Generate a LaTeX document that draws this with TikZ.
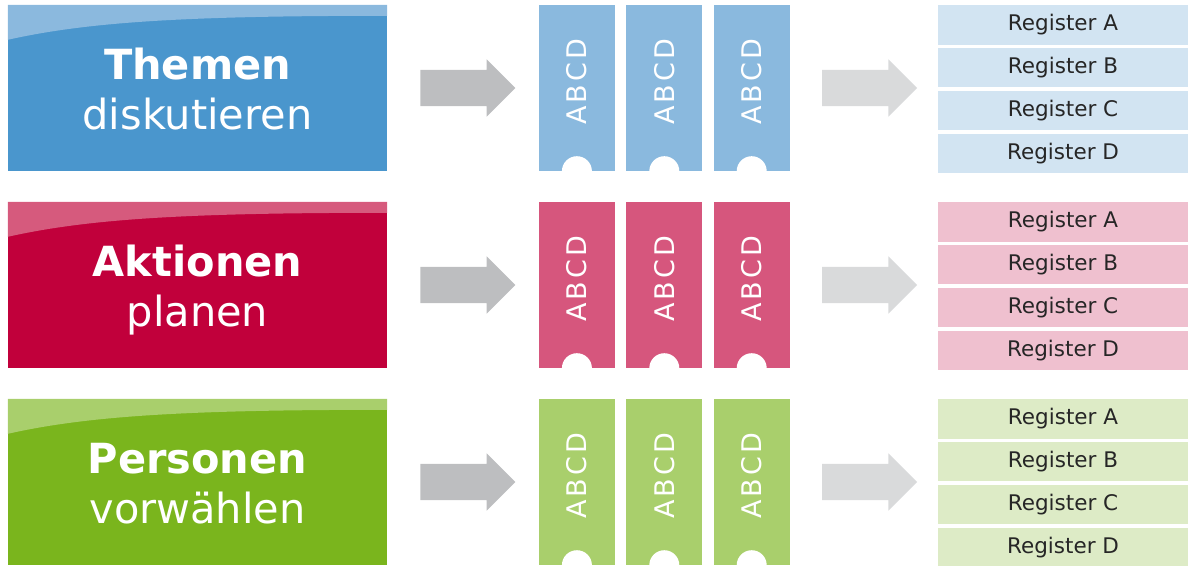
\documentclass[tikz,border=0pt]{standalone}
\usepackage{fontspec}
\setmainfont{DejaVu Sans}
\usetikzlibrary{positioning,shapes.arrows}

\definecolor{blueMain}{HTML}{4A96CD}
\definecolor{blueBand}{HTML}{8BB9DE}
\definecolor{blueTab}{HTML}{8AB9DE}
\definecolor{blueReg}{HTML}{D2E4F2}
\definecolor{redMain}{HTML}{C1003B}
\definecolor{redBand}{HTML}{D65A7D}
\definecolor{redTab}{HTML}{D6567D}
\definecolor{redReg}{HTML}{EFC0CF}
\definecolor{greenMain}{HTML}{7AB51D}
\definecolor{greenBand}{HTML}{A9CF6C}
\definecolor{greenTab}{HTML}{A9CF6C}
\definecolor{greenReg}{HTML}{DDEBC6}
\definecolor{arrowDark}{HTML}{BDBEC0}
\definecolor{arrowLight}{HTML}{D9DADB}
\definecolor{regText}{HTML}{262626}

\newcommand{\tabletters}{A\hspace{3pt}B\hspace{3pt}C\hspace{3pt}D}

\begin{document}
\begin{tikzpicture}[x=1pt, y=-1pt, node distance=11pt,
    main box/.style={rectangle, minimum width=379pt, minimum height=166pt},
    tab box/.style={rectangle, minimum width=76pt, minimum height=166pt},
    reg box/.style={rectangle, minimum width=250pt, minimum height=39.5pt, text=regText, font=\fontsize{21.5}{24}\selectfont},
    big arrow/.style={single arrow, single arrow head extend=10.5pt, minimum height=95pt, text height=18pt, text depth=18pt},
    head text/.style={anchor=base, text=white, font=\fontsize{41.5}{50}\selectfont\bfseries},
    sub text/.style={anchor=base, text=white, font=\fontsize{41.5}{50}\selectfont},
    tab text/.style={rotate=90, text=white, font=\fontsize{27}{30}\selectfont}]
    \tikzstyle{every node}=[inner sep=0pt]

    \useasboundingbox (0,0) rectangle (1188,565);

    % row 1: Themen diskutieren
      \node[main box, fill=blueMain] (m1) at (197.5,88) {};
      \fill[blueBand] (m1.north west) -- (m1.north east) -- ([yshift=-11pt]m1.north east)
        .. controls +(-200,0) and +(80,-18) .. ([yshift=-35pt]m1.north west) -- cycle;
      \node[head text] (h1) at ([yshift=-75pt]m1.north) {Themen};
      \node[sub text] (s1) at ([yshift=-125pt]m1.north) {diskutieren};
      \node[big arrow, fill=arrowDark, right=33pt of m1] (a1) {};
      \node[tab box, fill=blueTab, right=23pt of a1] (t11) {};
      \node[tab box, fill=blueTab, right=of t11] (t12) {};
      \node[tab box, fill=blueTab, right=of t12] (t13) {};
      \node[tab text] at ([yshift=6pt]t11.center) {\tabletters};
      \node[tab text] at ([yshift=6pt]t12.center) {\tabletters};
      \node[tab text] at ([yshift=6pt]t13.center) {\tabletters};
      \fill[white] (t11.south) circle[radius=15pt] (t12.south) circle[radius=15pt] (t13.south) circle[radius=15pt];
      \node[big arrow, fill=arrowLight, right=32pt of t13] (b1) {};
      \node[reg box, fill=blueReg] (ra1) at (1063,24.75) {Register A};
      \node[reg box, fill=blueReg, below=3pt of ra1] (rb1) {Register B};
      \node[reg box, fill=blueReg, below=3pt of rb1] (rc1) {Register C};
      \node[reg box, fill=blueReg, below=3pt of rc1] (rd1) {Register D};

    % row 2: Aktionen planen
      \node[main box, fill=redMain] (m2) at (197.5,285) {};
      \fill[redBand] (m2.north west) -- (m2.north east) -- ([yshift=-11pt]m2.north east)
        .. controls +(-200,0) and +(80,-18) .. ([yshift=-35pt]m2.north west) -- cycle;
      \node[head text] (h2) at ([yshift=-75pt]m2.north) {Aktionen};
      \node[sub text] (s2) at ([yshift=-125pt]m2.north) {planen};
      \node[big arrow, fill=arrowDark, right=33pt of m2] (a2) {};
      \node[tab box, fill=redTab, right=23pt of a2] (t21) {};
      \node[tab box, fill=redTab, right=of t21] (t22) {};
      \node[tab box, fill=redTab, right=of t22] (t23) {};
      \node[tab text] at ([yshift=6pt]t21.center) {\tabletters};
      \node[tab text] at ([yshift=6pt]t22.center) {\tabletters};
      \node[tab text] at ([yshift=6pt]t23.center) {\tabletters};
      \fill[white] (t21.south) circle[radius=15pt] (t22.south) circle[radius=15pt] (t23.south) circle[radius=15pt];
      \node[big arrow, fill=arrowLight, right=32pt of t23] (b2) {};
      \node[reg box, fill=redReg] (ra2) at (1063,221.75) {Register A};
      \node[reg box, fill=redReg, below=3pt of ra2] (rb2) {Register B};
      \node[reg box, fill=redReg, below=3pt of rb2] (rc2) {Register C};
      \node[reg box, fill=redReg, below=3pt of rc2] (rd2) {Register D};

    % row 3: Personen vorwählen
      \node[main box, fill=greenMain] (m3) at (197.5,482) {};
      \fill[greenBand] (m3.north west) -- (m3.north east) -- ([yshift=-11pt]m3.north east)
        .. controls +(-200,0) and +(80,-18) .. ([yshift=-35pt]m3.north west) -- cycle;
      \node[head text] (h3) at ([yshift=-75pt]m3.north) {Personen};
      \node[sub text] (s3) at ([yshift=-125pt]m3.north) {vorwählen};
      \node[big arrow, fill=arrowDark, right=33pt of m3] (a3) {};
      \node[tab box, fill=greenTab, right=23pt of a3] (t31) {};
      \node[tab box, fill=greenTab, right=of t31] (t32) {};
      \node[tab box, fill=greenTab, right=of t32] (t33) {};
      \node[tab text] at ([yshift=6pt]t31.center) {\tabletters};
      \node[tab text] at ([yshift=6pt]t32.center) {\tabletters};
      \node[tab text] at ([yshift=6pt]t33.center) {\tabletters};
      \fill[white] (t31.south) circle[radius=15pt] (t32.south) circle[radius=15pt] (t33.south) circle[radius=15pt];
      \node[big arrow, fill=arrowLight, right=32pt of t33] (b3) {};
      \node[reg box, fill=greenReg] (ra3) at (1063,418.75) {Register A};
      \node[reg box, fill=greenReg, below=3pt of ra3] (rb3) {Register B};
      \node[reg box, fill=greenReg, below=3pt of rb3] (rc3) {Register C};
      \node[reg box, fill=greenReg, below=3pt of rc3] (rd3) {Register D};

\end{tikzpicture}
\end{document}
